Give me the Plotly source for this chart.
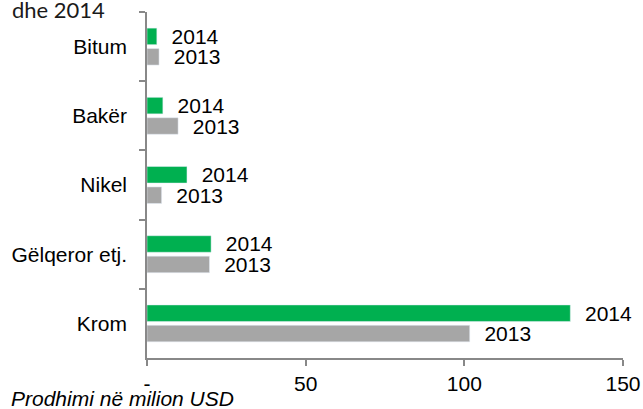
import plotly.graph_objects as go

# production value per mineral, million USD
categories = ["Bitum", "Bakër", "Nikel", "Gëlqeror etj.", "Krom"]
values_2014 = [3.1, 5.0, 12.6, 20.2, 133.4]
values_2013 = [3.8, 9.8, 4.6, 19.7, 101.7]
x_ticks = [0, 50, 100, 150]
x_ticktext = ["-", "50", "100", "150"]

GREEN = "#00B050"
GREY = "#A6A6A6"
AXIS = "#888888"
FONT = "Liberation Sans, Arial, sans-serif"

pad = "\u00a0\u00a0"

fig = go.Figure(
    data=[
        go.Bar(
            y=categories,
            x=values_2014,
            orientation="h",
            name="2014",
            marker_color=GREEN,
            text=[pad + "2014"] * len(categories),
            textposition="outside",
            constraintext="none",
            cliponaxis=False,
            textfont=dict(family=FONT, size=21, color="black"),
        ),
        go.Bar(
            y=categories,
            x=values_2013,
            orientation="h",
            name="2013",
            marker_color=GREY,
            text=[pad + "2013"] * len(categories),
            textposition="outside",
            constraintext="none",
            cliponaxis=False,
            textfont=dict(family=FONT, size=21, color="black"),
        ),
    ],
    layout=dict(
        width=643,
        height=409,
        margin=dict(l=147, r=20, t=12, b=51),
        paper_bgcolor="white",
        plot_bgcolor="white",
        showlegend=False,
        barmode="group",
        bargap=0.41,
        bargroupgap=0.19,
        font=dict(family=FONT, size=21, color="black"),
        xaxis=dict(
            range=[0, 150],
            tickvals=x_ticks,
            ticktext=x_ticktext,
            automargin=False,
            showgrid=False,
            zeroline=False,
            showline=True,
            linecolor=AXIS,
            linewidth=1.5,
            ticks="outside",
            ticklen=6,
            tickcolor=AXIS,
            tickwidth=1.5,
            ticklabelstandoff=0,
            tickfont=dict(size=21),
        ),
        yaxis=dict(
            autorange="reversed",
            automargin=False,
            showgrid=False,
            zeroline=False,
            showline=True,
            linecolor=AXIS,
            linewidth=1.5,
            ticks="outside",
            tickson="boundaries",
            ticklen=6,
            tickcolor=AXIS,
            tickwidth=1.5,
            ticklabelstandoff=14,
            tickfont=dict(size=21),
        ),
        annotations=[
            dict(
                text="dhe 2014",
                xref="paper",
                yref="paper",
                x=-137 / 476,
                y=1 + 3 / 346,
                xanchor="left",
                yanchor="middle",
                showarrow=False,
                font=dict(family="Lato, Carlito, sans-serif", size=22, color="#1a1a1a"),
            ),
            dict(
                text="<i>Prodhimi në milion USD</i>",
                xref="paper",
                yref="paper",
                x=-138 / 476,
                y=-40 / 346,
                xanchor="left",
                yanchor="middle",
                showarrow=False,
                font=dict(family=FONT, size=21, color="black"),
            ),
        ],
    ),
)

# page body has an 8px default margin; drop it so the figure sits at 0,0
fig.write_html(
    "out.html",
    config=dict(displayModeBar=False),
    post_script="document.body.style.margin='0';",
)
